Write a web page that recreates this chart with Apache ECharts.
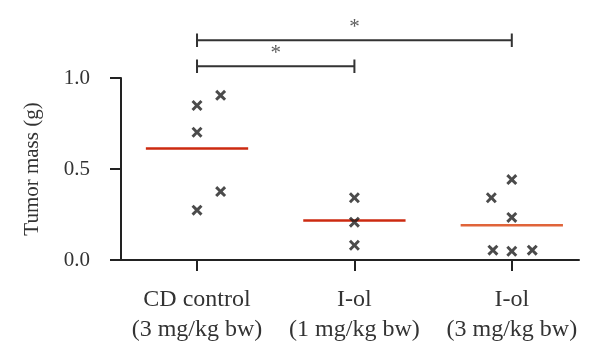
<!DOCTYPE html>
<html><head><meta charset="utf-8">
<script src="https://cdn.jsdelivr.net/npm/echarts@6/dist/echarts.min.js"></script>
<style>html,body{margin:0;padding:0;background:#fff}#c{width:600px;height:364px}</style>
</head><body><div id="c"></div>
<script>
const categories = ['CD control\n(3 mg/kg bw)', 'I-ol\n(1 mg/kg bw)', 'I-ol\n(3 mg/kg bw)'];
// individual tumor masses: [category index + jitter, value]
const pointsCD = [[0, 0.849], [0.15, 0.905], [0, 0.702], [0.15, 0.376], [0, 0.274]];
const pointsIol1 = [[1, 0.342], [1, 0.208], [1, 0.081]];
const pointsIol3 = [[1.87, 0.342], [2, 0.442], [2, 0.234], [1.88, 0.054], [2, 0.048], [2.13, 0.054]];
const means = [0.613, 0.217, 0.191];
const meanColors = ['#cc2a10', '#cc2a10', '#e0643a'];
const brackets = [[0, 1], [0, 2]];
const bracketHeights = [1.065, 1.208];
const yTicks = [0, 0.5, 1.0];

const FONT = 'Liberation Serif';
const TXT = '#333';
const crossPath = 'path://M0,1.9L1.9,0L5,3.1L8.1,0L10,1.9L6.9,5L10,8.1L8.1,10L5,6.9L1.9,10L0,8.1L3.1,5Z';

const series = [];
[pointsCD, pointsIol1, pointsIol3].forEach(p => {
  series.push({type: 'scatter', data: p, symbol: crossPath, symbolSize: 11,
    itemStyle: {color: '#1e1e1e'}, z: 3});
});
means.forEach((m, i) => {
  series.push({type: 'line', data: [[i - 0.325, m], [i + 0.325, m]], symbol: 'none',
    lineStyle: {color: meanColors[i], width: 2.5}, z: 2});
});
const tk = 0.037;
brackets.forEach((b, k) => {
  const h = bracketHeights[k];
  series.push({type: 'line', clip: false, symbol: 'none',
    data: [[b[0], h - tk], [b[0], h + tk], [b[0], h], [b[1], h], [b[1], h + tk], [b[1], h - tk]],
    lineStyle: {color: '#333', width: 2}});
  series.push({type: 'scatter', clip: false, symbolSize: 0,
    data: [[(b[0] + b[1]) / 2, h]],
    label: {show: true, formatter: '*', position: 'top', distance: 2,
      fontFamily: FONT, fontSize: 21, color: '#333'}});
});

const chart = echarts.init(document.getElementById('c'));
chart.setOption({
  animation: false,
  grid: {left: 121, right: 21, top: 78, bottom: 104},
  xAxis: {
    type: 'value', min: -0.483, max: 2.427,
    splitLine: {show: false},
    axisLine: {show: true, lineStyle: {color: '#222', width: 2}},
    axisTick: {show: true, customValues: [0, 1, 2], length: 11, lineStyle: {color: '#222', width: 2}},
    axisLabel: {customValues: [0, 1, 2], formatter: v => categories[Math.round(v)],
      fontFamily: FONT, fontSize: 24, color: TXT, lineHeight: 30, margin: 25}
  },
  yAxis: {
    type: 'value', min: 0, max: 1, interval: 0.5,
    name: 'Tumor mass (g)', nameLocation: 'middle', nameGap: 78,
    nameTextStyle: {fontFamily: FONT, fontSize: 21, color: TXT},
    splitLine: {show: false},
    axisLine: {show: true, onZero: false, lineStyle: {color: '#222', width: 2}},
    axisTick: {show: true, length: 11, lineStyle: {color: '#222', width: 2}},
    axisLabel: {formatter: v => v.toFixed(1), fontFamily: FONT, fontSize: 21, color: TXT, margin: 31}
  },
  series: series
});
</script></body></html>
